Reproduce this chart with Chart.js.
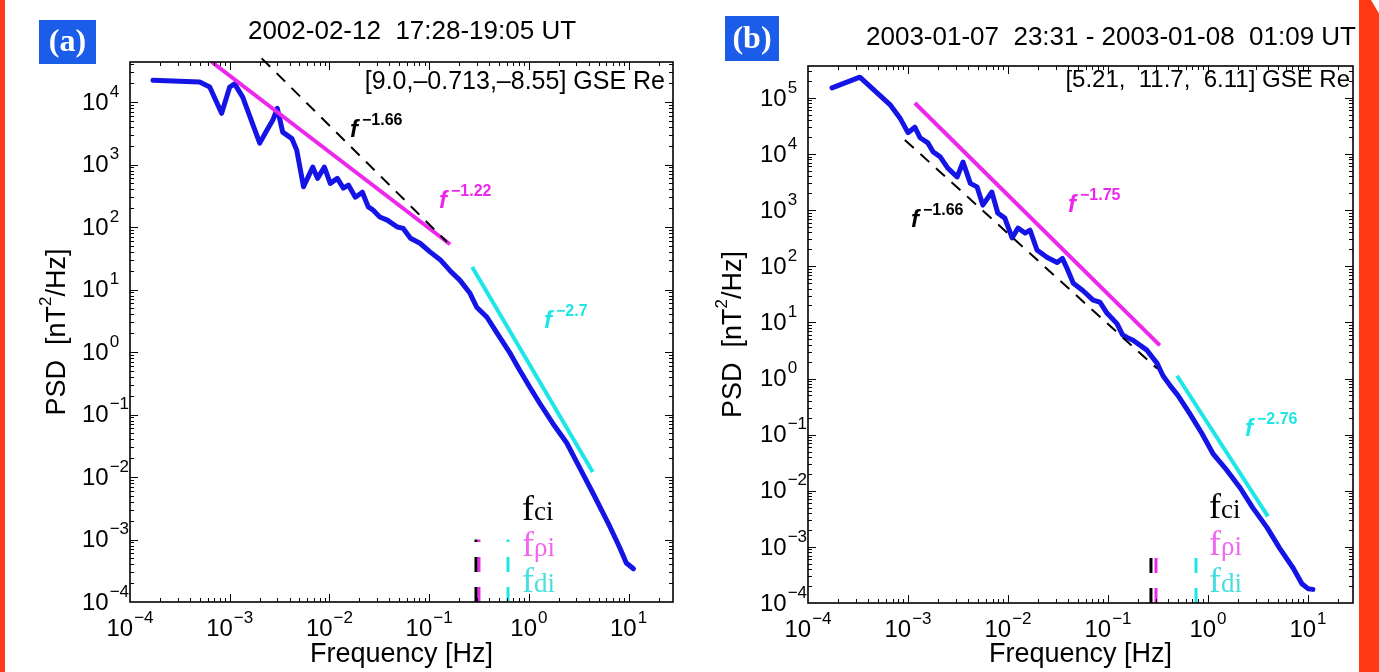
<!DOCTYPE html>
<html><head><meta charset="utf-8">
<script src="https://cdn.jsdelivr.net/npm/chart.js@4.4.1/dist/chart.umd.min.js"></script>
<style>
html,body{margin:0;padding:0;background:#fff;}
#wrap{position:relative;width:1379px;height:672px;overflow:hidden;background:#fff;}
canvas{position:absolute;top:0;}
#ca{left:0;} #cb{left:690px;}
.redL{position:absolute;left:0;top:0;width:5px;height:672px;background:#ff3a1c;}
.redR{position:absolute;left:1359px;top:0;width:20px;height:672px;background:#ff3a12;clip-path:polygon(0 0,60% 0,100% 2%,100% 100%,0 100%);}
</style></head>
<body><div id="wrap">
<canvas id="ca" width="690" height="672"></canvas>
<canvas id="cb" width="689" height="672"></canvas>
<div class="redL"></div><div class="redR"></div>
</div>
<script>
// ---------- data ----------
const xTickExp = [-4,-3,-2,-1,0,1];
const yTickExpA = [-4,-3,-2,-1,0,1,2,3,4];
const yTickExpB = [-4,-3,-2,-1,0,1,2,3,4,5];

// Panel (a) spectrum
const freqA = [1.70e-4,5.0e-4,6.3e-4,8.3e-4,1.0e-3,1.12e-3,1.35e-3,2.0e-3,2.35e-3,2.7e-3,3.0e-3,3.4e-3,4.2e-3,4.7e-3,5.5e-3,6.8e-3,7.6e-3,8.9e-3,1.02e-2,1.2e-2,1.38e-2,1.55e-2,1.82e-2,2.14e-2,2.45e-2,2.75e-2,3.2e-2,3.8e-2,4.8e-2,5.5e-2,6.5e-2,8.1e-2,0.102,0.129,0.162,0.204,0.257,0.30,0.38,0.48,0.65,0.81,1.02,1.29,1.74,2.4,3.2,4.4,6.5,8.1,9.5,11.2];
const psdA  = [2.24e4,2.09e4,1.74e4,6.6e3,1.74e4,1.95e4,1.2e4,2.2e3,3.5e3,5.1e3,7.9e3,3.3e3,2.6e3,1.7e3,4.4e2,9.1e2,6.0e2,9.1e2,5.0e2,6.0e2,4.2e2,4.7e2,3.0e2,3.6e2,2.1e2,1.86e2,1.45e2,1.29e2,1.0e2,95,66,55,40,30,20,14,8.7,5.2,3.6,2.0,0.95,0.51,0.275,0.15,0.072,0.035,0.0145,0.0055,1.6e-3,7.6e-4,4.2e-4,3.4e-4];

// Panel (b) spectrum
const freqB = [1.74e-4,3.3e-4,6.6e-4,8.3e-4,1.0e-3,1.17e-3,1.32e-3,1.58e-3,1.78e-3,2.1e-3,2.5e-3,3.1e-3,3.55e-3,4.2e-3,4.9e-3,5.6e-3,6.9e-3,7.9e-3,9.3e-3,1.1e-2,1.26e-2,1.48e-2,1.66e-2,1.95e-2,2.45e-2,3.1e-2,3.5e-2,3.9e-2,4.5e-2,5.6e-2,7.1e-2,8.3e-2,9.8e-2,0.123,0.140,0.155,0.178,0.245,0.31,0.355,0.42,0.50,0.66,0.87,1.12,1.55,2.1,2.8,3.9,5.2,7.1,8.7,10.0,11.2];
const psdB  = [1.51e5,2.34e5,7.6e4,4.4e4,2.4e4,3.0e4,1.95e4,1.58e4,1.1e4,8.9e3,5.6e3,3.9e3,7.2e3,3.0e3,2.6e3,1.23e3,2.1e3,8.9e2,7.2e2,3.2e2,4.8e2,3.9e2,4.4e2,1.95e2,1.45e2,1.17e2,1.38e2,91,50,37,25,23,14.5,9.5,6.0,5.4,4.8,3.2,1.86,1.12,0.74,0.50,0.234,0.105,0.046,0.023,0.0112,5.0e-3,2.2e-3,9.5e-4,4.2e-4,2.2e-4,1.8e-4,1.75e-4];

// Power-law guide lines (end points)
const pinkFitFreqA = [6.6e-4, 0.162],  pinkFitPsdA = [4.37e4, 53];
const blackFitFreqA = [2.09e-3, 0.151], blackFitPsdA = [5.0e4, 57.5];
const cyanFitFreqA = [0.27, 4.37],      cyanFitPsdA = [22.9, 0.012];
const pinkFitFreqB = [1.17e-3, 0.33],   pinkFitPsdB = [8.1e4, 3.9];
const blackFitFreqB = [9.3e-4, 0.31],   blackFitPsdB = [1.78e4, 1.5];
const cyanFitFreqB = [0.49, 3.98],      cyanFitPsdB = [1.12, 3.5e-3];

// characteristic frequencies [fci, fρi, fdi] and marker span
const charFreqA = [0.295, 0.316, 0.618], markSpanA = [1e-4, 1e-3];
const charFreqB = [0.269, 0.302, 0.759], markSpanB = [1e-4, 6.4e-4];

// ---------- helpers ----------
const BLUE='#1414e6', PINK='#ec28ec', CYAN='#1ee6e6', BLACK='#000';
const pts=(fs,ps)=>fs.map((f,i)=>({x:f,y:ps[i]}));
const SANS='"Liberation Sans", Arial, Helvetica, sans-serif';
const SERIF='"Liberation Serif", "Times New Roman", serif';

function pow10(ctx, e, x, y, mode){
  const base='10', ex=(e<0?'\u2212':'')+Math.abs(e);
  ctx.font='24px '+SANS; const wb=ctx.measureText(base).width;
  ctx.font='17px '+SANS; const we=ctx.measureText(ex).width;
  const x0 = mode==='center' ? x-(wb+we+1)/2 : x;
  ctx.textAlign='left'; ctx.textBaseline='middle'; ctx.fillStyle='#000';
  ctx.font='24px '+SANS; ctx.fillText(base,x0,y);
  ctx.font='17px '+SANS; ctx.fillText(ex,x0+wb+1,y-11);
}
function powerLabel(ctx, x, y, ex, color){
  ctx.fillStyle=color; ctx.textAlign='left'; ctx.textBaseline='alphabetic';
  ctx.font='italic bold 24px '+SANS; ctx.fillText('f',x,y);
  const w=ctx.measureText('f').width;
  ctx.font='bold 16px '+SANS; ctx.fillText(ex,x+w+4,y-12);
}
function subLabel(ctx, x, y, sub, color){
  ctx.fillStyle=color; ctx.textAlign='left'; ctx.textBaseline='alphabetic';
  ctx.font='36px '+SERIF; ctx.fillText('f',x,y);
  const w=ctx.measureText('f').width;
  ctx.font='27px '+SERIF; ctx.fillText(sub,x+w,y);
}

const mAxes = {
  id:'mAxes',
  afterDraw(chart, args, o){
    const {ctx, chartArea:a, scales:{x,y}} = chart;
    ctx.save();
    // ticks
    ctx.strokeStyle='#000'; ctx.lineWidth=1;
    ctx.beginPath();
    for(let e=-5;e<=6;e++) for(let m=1;m<=9;m++){
      const v=m*Math.pow(10,e), len=(m===1)?8:4;
      const px=Math.round(x.getPixelForValue(v))+0.5;
      if(px>a.left+1 && px<a.right-1){
        ctx.moveTo(px,a.bottom); ctx.lineTo(px,a.bottom-len);
        ctx.moveTo(px,a.top); ctx.lineTo(px,a.top+len);
      }
      const py=Math.round(y.getPixelForValue(v))+0.5;
      if(py>a.top+1 && py<a.bottom-1){
        ctx.moveTo(a.left,py); ctx.lineTo(a.left+len,py);
        ctx.moveTo(a.right,py); ctx.lineTo(a.right-len,py);
      }
    }
    ctx.stroke();
    ctx.lineWidth=1.6;
    ctx.strokeRect(a.left, a.top, a.right-a.left, a.bottom-a.top);
    // tick labels
    o.xExp.forEach(e=>pow10(ctx,e,x.getPixelForValue(Math.pow(10,e)),a.bottom+27,'center'));
    o.yExp.forEach(e=>pow10(ctx,e,a.left-48,y.getPixelForValue(Math.pow(10,e))+1,'left'));
    const ox=o.offsetX;
    ctx.translate(-ox,0);
    // axis titles
    ctx.fillStyle='#000'; ctx.textAlign='center'; ctx.textBaseline='middle';
    ctx.font='27px '+SANS;
    ctx.fillText('Frequency [Hz]', (a.left+a.right)/2+ox, 655);
    ctx.save();
    ctx.translate(o.yTitleX, (a.top+a.bottom)/2); ctx.rotate(-Math.PI/2);
    ctx.font='27px '+SANS; ctx.textAlign='left';
    const t1='PSD  [nT', t2='2', t3='/Hz]';
    const w1=ctx.measureText(t1).width, w3=ctx.measureText(t3).width;
    ctx.font='17px '+SANS; const w2=ctx.measureText(t2).width;
    let sx=-(w1+w2+w3)/2;
    ctx.font='27px '+SANS; ctx.fillText(t1,sx,0);
    ctx.font='17px '+SANS; ctx.fillText(t2,sx+w1,-12);
    ctx.font='27px '+SANS; ctx.fillText(t3,sx+w1+w2,0);
    ctx.restore();
    // title
    ctx.font='26px '+SANS; ctx.textAlign='center'; ctx.fillStyle='#000';
    ctx.fillText(o.title, o.titleX, o.titleY);
    // position
    ctx.font=o.posFont+'px '+SANS; ctx.textAlign='right';
    ctx.fillText(o.pos, o.posX, o.posY);
    // panel tag
    ctx.fillStyle='#1b5ce8';
    ctx.fillRect(o.tag[0],o.tag[1],o.tag[2],o.tag[3]);
    ctx.fillStyle='#fff'; ctx.font='bold 32px '+SERIF; ctx.textAlign='center';
    ctx.fillText(o.tagText, o.tag[0]+o.tag[2]/2, o.tag[1]+o.tag[3]/2+1);
    // slope annotations
    o.notes.forEach(n=>powerLabel(ctx,n[0],n[1],n[2],n[3]));
    // characteristic frequency labels
    subLabel(ctx,o.subX,o.subY[0],'ci',BLACK);
    subLabel(ctx,o.subX,o.subY[1],'\u03c1i','#f068f0');
    subLabel(ctx,o.subX,o.subY[2],'di','#48dede');
    ctx.restore();
  }
};

function makeChart(id, P){
  const marks=[BLACK,PINK,CYAN].map((c,i)=>({
    data: pts([P.charF[i],P.charF[i]], P.span), showLine:true, borderColor:c,
    borderWidth:3, borderDash:[15,15], pointRadius:0, order:1, clip:0
  }));
  return new Chart(document.getElementById(id), {
    type:'scatter',
    data:{datasets:[
      {data:pts(P.f,P.p), showLine:true, borderColor:BLUE, borderWidth:5, pointRadius:0,
       borderJoinStyle:'round', borderCapStyle:'round', order:2},
      {data:pts(P.bf,P.bp), showLine:true, borderColor:BLACK, borderWidth:2, borderDash:[12,9], pointRadius:0, order:1, clip:{left:0,top:8,right:0,bottom:0}},
      {data:pts(P.pf,P.pp), showLine:true, borderColor:PINK, borderWidth:4, pointRadius:0, order:1},
      {data:pts(P.cf,P.cp), showLine:true, borderColor:CYAN, borderWidth:4, pointRadius:0, order:1},
      ...marks
    ]},
    options:{
      responsive:false, animation:false, devicePixelRatio:1,
      layout:{padding:P.pad},
      plugins:{legend:{display:false}, tooltip:{enabled:false}, mAxes:P.opt},
      scales:{
        x:{type:'logarithmic', min:1e-4, max:P.xMax, display:false},
        y:{type:'logarithmic', min:1e-4, max:P.yMax, display:false}
      }
    },
    plugins:[mAxes]
  });
}

makeChart('ca',{
  f:freqA,p:psdA,bf:blackFitFreqA,bp:blackFitPsdA,pf:pinkFitFreqA,pp:pinkFitPsdA,cf:cyanFitFreqA,cp:cyanFitPsdA,
  charF:charFreqA, span:markSpanA, xMax:27.9, yMax:4.37e4,
  pad:{left:130,top:62,right:690-673,bottom:672-602},
  opt:{offsetX:0, xExp:xTickExp, yExp:yTickExpA, yTitleX:58,
    title:'2002-02-12  17:28-19:05 UT', titleX:412, titleY:32,
    pos:'[9.0,\u20130.713,\u20138.55] GSE Re', posFont:25, posX:665, posY:82,
    tag:[39,20,57,44], tagText:'(a)',
    notes:[[350,137,'\u22121.66',BLACK],[439,208,'\u22121.22',PINK],[544,328,'\u22122.7',CYAN]],
    subX:522, subY:[520,556,592]}
});
makeChart('cb',{
  f:freqB,p:psdB,bf:blackFitFreqB,bp:blackFitPsdB,pf:pinkFitFreqB,pp:pinkFitPsdB,cf:cyanFitFreqB,cp:cyanFitPsdB,
  charF:charFreqB, span:markSpanB, xMax:28.2, yMax:3.7e5,
  pad:{left:808-690,top:66,right:1379-1353,bottom:672-603},
  opt:{offsetX:690, xExp:xTickExp, yExp:yTickExpB, yTitleX:734,
    title:'2003-01-07  23:31 - 2003-01-08  01:09 UT', titleX:1111, titleY:38,
    pos:'[5.21,  11.7,  6.11] GSE Re', posFont:24, posX:1350, posY:80,
    tag:[725,16,54,45], tagText:'(b)',
    notes:[[911,227,'\u22121.66',BLACK],[1068,212,'\u22121.75',PINK],[1245,436,'\u22122.76',CYAN]],
    subX:1209, subY:[518,555,592]}
});
</script>
</body></html>
